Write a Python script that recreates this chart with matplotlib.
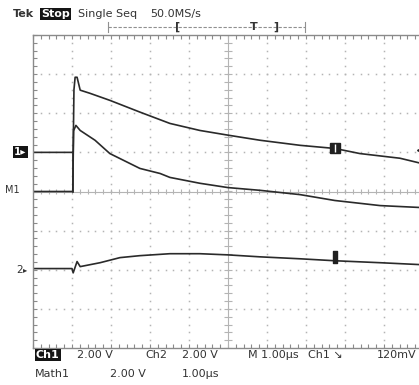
import matplotlib
matplotlib.use('Agg')
import matplotlib.pyplot as plt
import numpy as np

# screen in divisions: x -5..5 (time), y -4..4 (volts)
ch1_t = [-5.0, -3.97, -3.95, -3.92, -3.87, -3.79, -3.54, -3.03, -2.26, -1.49, -0.72, 0.0, 0.82, 1.85, 2.74, 3.38, 4.41, 4.95]
ch1_v = [1.0, 1.0, 2.6, 2.92, 2.92, 2.59, 2.51, 2.33, 2.03, 1.74, 1.56, 1.44, 1.31, 1.18, 1.10, 0.97, 0.85, 0.72]

math_t = [-5.0, -3.98, -3.96, -3.90, -3.79, -3.41, -3.03, -2.26, -1.74, -1.49, -0.72, 0.0, 0.82, 1.85, 2.74, 3.90, 4.95]
math_v = [0.0, 0.0, 1.55, 1.69, 1.56, 1.31, 0.97, 0.59, 0.46, 0.36, 0.21, 0.10, 0.03, -0.08, -0.23, -0.36, -0.41]

ch2_t = [-5.0, -4.0, -3.97, -3.87, -3.79, -3.28, -2.77, -2.26, -1.49, -0.72, 0.0, 0.82, 1.85, 2.74, 3.90, 4.95]
ch2_v = [-1.97, -1.97, -2.08, -1.79, -1.92, -1.82, -1.69, -1.64, -1.59, -1.59, -1.62, -1.67, -1.72, -1.77, -1.82, -1.87]

W, H = 419, 385
fig = plt.figure(figsize=(W / 100, H / 100), dpi=100)
ax = fig.add_axes([33 / W, (H - 348) / H, 390 / W, 313 / H])
ax.set_xlim(-5, 5)
ax.set_ylim(-4, 4)

grid_c = '#b4b4b4'
for s in ['left', 'top', 'bottom']:
    ax.spines[s].set_color('#8a8a8a')
    ax.spines[s].set_linewidth(1.0)
ax.spines['right'].set_visible(False)
ax.set_xticks(np.arange(-5, 5.01, 1))
ax.set_yticks(np.arange(-4, 4.01, 1))
ax.set_xticks(np.arange(-5, 5.01, 0.2), minor=True)
ax.set_yticks(np.arange(-4, 4.01, 0.2), minor=True)
ax.tick_params(which='both', direction='in', length=3, color='#8a8a8a',
               labelbottom=False, labelleft=False, top=True, width=0.8)

# dotted graticule
fine_y = np.arange(-4, 4.01, 0.2)
fine_x = np.arange(-5, 5.01, 0.2)
for gx in range(-4, 5):
    if gx == 0:
        continue
    ax.plot(np.full_like(fine_y, gx), fine_y, ls='none', marker='s', ms=1.1, color=grid_c, mec='none')
for gy in range(-3, 4):
    if gy == 0:
        continue
    ax.plot(fine_x, np.full_like(fine_x, gy), ls='none', marker='s', ms=1.1, color=grid_c, mec='none')

# center cross with ticks
ax.axhline(0, color=grid_c, lw=0.8)
ax.axvline(0, color=grid_c, lw=0.8)
ax.vlines(fine_x, -0.07, 0.07, color=grid_c, lw=0.8)
ax.hlines(fine_y, -0.09, 0.09, color=grid_c, lw=0.8)

tr = '#2a2a2a'
ax.plot(ch1_t, ch1_v, color=tr, lw=1.2)
ax.plot(math_t, math_v, color=tr, lw=1.2)
ax.plot(ch2_t, ch2_v, color=tr, lw=1.2)
ax.plot([-3.97, -3.97], [0.0, 1.0], color=tr, lw=1.2)

# cursor markers on traces
ax.plot([2.74], [1.10], marker='s', ms=7, color='#202020')
ax.plot([2.74], [1.10], marker='|', ms=6, color='white', mew=1)
ax.plot([2.74], [-1.68], marker='$\\mathbf{I}$', ms=9, color='#202020')
ax.plot([4.97], [1.05], marker='<', ms=7, color='#202020', clip_on=False)


def px(x, y):
    return x / W, 1 - y / H


fs = 8
txt = '#333333'
fig.text(*px(13, 14), 'Tek', fontsize=fs, fontweight='bold', va='center', color=txt)
fig.text(*px(41, 14), 'Stop', fontsize=fs, color='white', va='center', fontweight='bold',
         bbox=dict(facecolor='#151515', edgecolor='none', pad=0.8))
fig.text(*px(78, 14), 'Single Seq', fontsize=fs, va='center', color=txt)
fig.text(*px(150, 14), '50.0MS/s', fontsize=fs, va='center', color=txt)

# trigger position bar
fig.add_artist(plt.Line2D([108 / W, 305 / W], [1 - 27 / H] * 2, color='#909090', lw=0.8, ls=(0, (3, 1.5))))
for bx in [108, 305]:
    fig.add_artist(plt.Line2D([bx / W] * 2, [1 - 22 / H, 1 - 32 / H], color='#909090', lw=0.8))
fig.text(*px(178, 27), '[', fontsize=fs, va='center', ha='center', fontweight='bold', color=txt)
fig.text(*px(254, 27), 'T', fontsize=fs, va='center', ha='center', fontweight='bold', color=txt)
fig.text(*px(276, 27), ']', fontsize=fs, va='center', ha='center', fontweight='bold', color=txt)

# channel markers on the left
fig.text(*px(14, 152), '1\u25b8', fontsize=7.5, color='white', va='center', fontweight='bold',
         bbox=dict(facecolor='#151515', edgecolor='none', pad=0.8))
fig.text(*px(5, 190), 'M1', fontsize=7, va='center', color=txt)
fig.text(*px(16, 270), '2', fontsize=7.5, va='center', color=txt)
fig.text(*px(23, 270), '\u25b8', fontsize=6, va='center', color=txt)

# readouts
y1, y2 = 355, 374
fig.text(*px(36, y1), 'Ch1', fontsize=fs, color='white', va='center', fontweight='bold',
         bbox=dict(facecolor='#151515', edgecolor='none', pad=0.6))
fig.text(*px(77, y1), '2.00 V', fontsize=fs, va='center', color=txt)
fig.text(*px(145, y1), 'Ch2', fontsize=fs, va='center', color=txt)
fig.text(*px(182, y1), '2.00 V', fontsize=fs, va='center', color=txt)
fig.text(*px(248, y1), 'M 1.00\u00b5s', fontsize=fs, va='center', color=txt)
fig.text(*px(308, y1), 'Ch1 \u2198', fontsize=fs, va='center', color=txt)
fig.text(*px(377, y1), '120mV', fontsize=fs, va='center', color=txt)
fig.text(*px(35, y2), 'Math1', fontsize=fs, va='center', color=txt)
fig.text(*px(110, y2), '2.00 V', fontsize=fs, va='center', color=txt)
fig.text(*px(182, y2), '1.00\u00b5s', fontsize=fs, va='center', color=txt)

fig.savefig('out.png', dpi=100)
